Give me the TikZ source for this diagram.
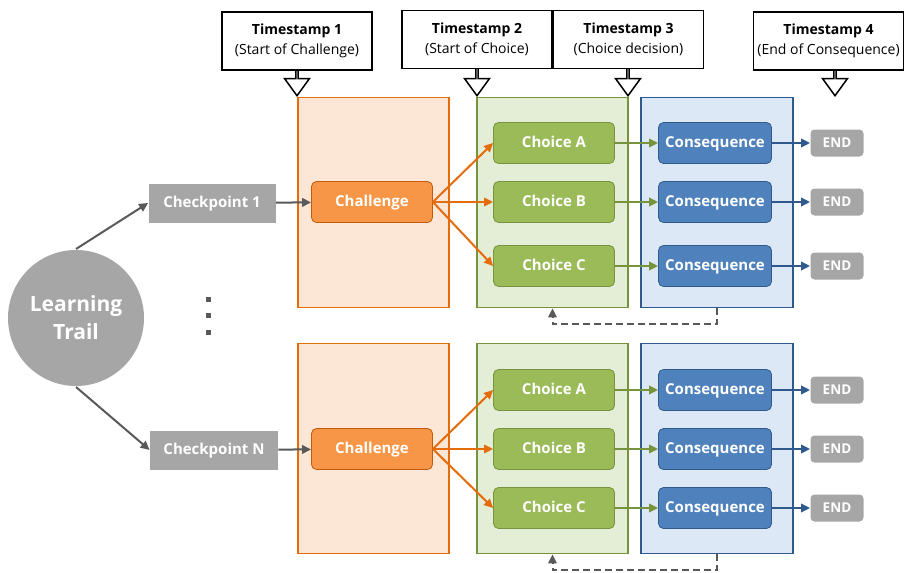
\documentclass[tikz,border=0pt]{standalone}
\usepackage{fontspec}
\setsansfont{Open Sans}
\usetikzlibrary{arrows.meta,shapes.arrows,positioning}

\definecolor{grayfill}{HTML}{A6A6A6}
\definecolor{darkline}{HTML}{595959}
\definecolor{orfill}{HTML}{F79646}
\definecolor{orline}{HTML}{E46C0A}
\definecolor{orpanel}{HTML}{FCE6D6}
\definecolor{grfill}{HTML}{9BBB59}
\definecolor{grline}{HTML}{77933C}
\definecolor{grpanel}{HTML}{E4EDD6}
\definecolor{blfill}{HTML}{4F81BD}
\definecolor{blline}{HTML}{2F5A8E}
\definecolor{blpanel}{HTML}{DDE8F6}

\begin{document}
\begin{tikzpicture}[x=1pt,y=-1pt,>={Triangle[length=9pt,width=8.5pt]},line width=2pt,
  box node/.style={rectangle,rounded corners=5pt,line width=0.8pt,
    font=\sffamily\bfseries\fontsize{15}{17}\selectfont,text=white,
    text height=11pt,text depth=3pt,minimum height=41pt,inner sep=2pt},
  chal node/.style={box node,fill=orfill,draw=orline!85!black,minimum width=121pt},
  choice node/.style={box node,fill=grfill,draw=grline,minimum width=121pt},
  cons node/.style={box node,fill=blfill,draw=blline,minimum width=113pt},
  end node/.style={box node,fill=grayfill,draw=none,rounded corners=4pt,
    font=\sffamily\bfseries\fontsize{13.5}{15}\selectfont,minimum width=53pt,minimum height=27pt},
  check node/.style={box node,fill=grayfill,draw=none,rounded corners=0pt,
    minimum width=127pt,minimum height=39pt},
  panel/.style={rectangle,line width=1.8pt,minimum width=151pt,minimum height=210pt},
  stamp node/.style={rectangle,draw=black,fill=white,line width=1.5pt,align=center,
    font=\sffamily\fontsize{14}{20}\selectfont,minimum width=150pt,minimum height=58pt},
  stamp arrow/.style={single arrow,draw=black,fill=white,line width=1.5pt,inner sep=0pt,
    minimum height=31pt,minimum width=25pt,single arrow head extend=7.5pt,
    single arrow head indent=0pt,single arrow tip angle=72,shape border rotate=270,anchor=tip},
  dot node/.style={rectangle,fill=darkline,minimum size=5pt,inner sep=0pt},
  node distance=59pt]

  \useasboundingbox (0,0) rectangle (914,573);

  % timestamps
  \node[stamp arrow] (ArrOne) at (297,97) {};
  \node[stamp arrow] (ArrTwo) at (477,97) {};
  \node[stamp arrow] (ArrThree) at (628,97) {};
  \node[stamp arrow] (ArrFour) at (835,97) {};
  \node[stamp node] (StampOne) at (297,41) {\textbf{Timestamp 1}\\(Start of Challenge)};
  \node[stamp node] (StampTwo) at (477,39.5) {\textbf{Timestamp 2}\\(Start of Choice)};
  \node[stamp node] (StampThree) at (628.5,39.5) {\textbf{Timestamp 3}\\(Choice decision)};
  \node[stamp node] (StampFour) at (828.5,41) {\textbf{Timestamp 4}\\(End of Consequence)};

  % panels
  \node[panel,fill=orpanel,draw=orline] (OrBoxOne) at (373.5,202.5) {};
  \node[panel,fill=grpanel,draw=grline] (GrBoxOne) at (552.5,202.5) {};
  \node[panel,fill=blpanel,draw=blline,minimum width=152pt] (BlBoxOne) at (717,202.5) {};
  \node[panel,fill=orpanel,draw=orline] (OrBoxTwo) at (373.5,448.5) {};
  \node[panel,fill=grpanel,draw=grline] (GrBoxTwo) at (552.5,448.5) {};
  \node[panel,fill=blpanel,draw=blline,minimum width=152pt] (BlBoxTwo) at (717,448.5) {};

  % learning trail
  \node[circle,fill=grayfill,minimum size=136pt,align=center,text=white,
    font=\sffamily\bfseries\fontsize{21}{28}\selectfont] (Trail) at (76,318) {Learning\\Trail};
  \node[dot node] (DotA) at (208,299) {};
  \node[dot node] (DotB) [node distance=16.5pt, below of=DotA] {};
  \node[dot node] (DotC) [node distance=16.5pt, below of=DotB] {};

  % first row
  \node[check node] (CheckOne) at (212,203) {Checkpoint 1};
  \node[chal node] (ChalOne) at (372,202) {Challenge};
  \node[choice node] (ChoiceBOne) [node distance=182pt, right of=ChalOne] {Choice B};
  \node[choice node] (ChoiceAOne) [above of=ChoiceBOne] {Choice A};
  \node[choice node] (ChoiceCOne) [node distance=64pt, below of=ChoiceBOne] {Choice C};
  \node[cons node] (ConsAOne) [node distance=161pt, right of=ChoiceAOne] {Consequence};
  \node[cons node] (ConsBOne) [node distance=161pt, right of=ChoiceBOne] {Consequence};
  \node[cons node] (ConsCOne) [node distance=161pt, right of=ChoiceCOne] {Consequence};
  \node[end node] (EndAOne) [node distance=122pt, right of=ConsAOne] {END};
  \node[end node] (EndBOne) [node distance=122pt, right of=ConsBOne] {END};
  \node[end node] (EndCOne) [node distance=122pt, right of=ConsCOne] {END};

  % second row
  \node[check node,minimum width=128pt] (CheckTwo) at (214,450) {Checkpoint N};
  \node[chal node] (ChalTwo) at (372,449) {Challenge};
  \node[choice node] (ChoiceBTwo) [node distance=182pt, right of=ChalTwo] {Choice B};
  \node[choice node] (ChoiceATwo) [above of=ChoiceBTwo] {Choice A};
  \node[choice node] (ChoiceCTwo) [below of=ChoiceBTwo] {Choice C};
  \node[cons node] (ConsATwo) [node distance=161pt, right of=ChoiceATwo] {Consequence};
  \node[cons node] (ConsBTwo) [node distance=161pt, right of=ChoiceBTwo] {Consequence};
  \node[cons node] (ConsCTwo) [node distance=161pt, right of=ChoiceCTwo] {Consequence};
  \node[end node] (EndATwo) [node distance=122pt, right of=ConsATwo] {END};
  \node[end node] (EndBTwo) [node distance=122pt, right of=ConsBTwo] {END};
  \node[end node] (EndCTwo) [node distance=122pt, right of=ConsCTwo] {END};

  \path[->,darkline]
    (Trail.north) edge (CheckOne.west)
    (Trail.south) edge (CheckTwo.west)
    (CheckOne) edge (ChalOne)
    (CheckTwo) edge (ChalTwo);
  \path[->,orline]
    (ChalOne.east) edge (ChoiceAOne.west)
    (ChalOne.east) edge (ChoiceBOne.west)
    (ChalOne.east) edge (ChoiceCOne.west)
    (ChalTwo.east) edge (ChoiceATwo.west)
    (ChalTwo.east) edge (ChoiceBTwo.west)
    (ChalTwo.east) edge (ChoiceCTwo.west);
  \path[->,grline]
    (ChoiceAOne) edge (ConsAOne)
    (ChoiceBOne) edge (ConsBOne)
    (ChoiceCOne) edge (ConsCOne)
    (ChoiceATwo) edge (ConsATwo)
    (ChoiceBTwo) edge (ConsBTwo)
    (ChoiceCTwo) edge (ConsCTwo);
  \path[->,blline]
    (ConsAOne) edge (EndAOne)
    (ConsBOne) edge (EndBOne)
    (ConsCOne) edge (EndCOne)
    (ConsATwo) edge (EndATwo)
    (ConsBTwo) edge (EndBTwo)
    (ConsCTwo) edge (EndCTwo);

  % back to the choice
  \draw[->,darkline,dash pattern=on 7pt off 4pt] (BlBoxOne.south) -- ++(0,16) -| (GrBoxOne.south);
  \draw[->,darkline,dash pattern=on 7pt off 4pt] (BlBoxTwo.south) -- ++(0,16) -| (GrBoxTwo.south);
\end{tikzpicture}
\end{document}
